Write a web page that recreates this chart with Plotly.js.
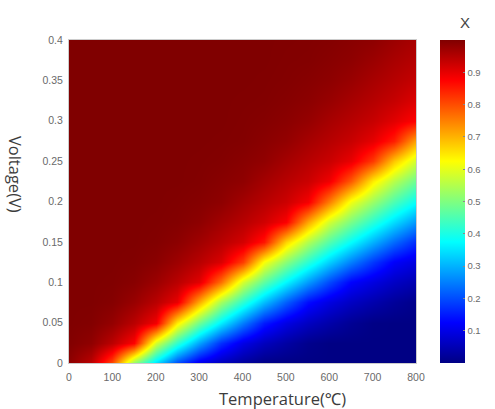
<!DOCTYPE html>
<html>
<head>
<meta charset="utf-8">
<script src="https://cdn.plot.ly/plotly-3.0.1.min.js"></script>
<style>html,body{margin:0;padding:0;background:#fff;}#chart{width:495px;height:409px;}</style>
</head>
<body>
<div id="chart"></div>
<script>
// Temperature (°C) grid and Voltage (V) grid
var temperature = [0,50,100,150,200,250,300,350,400,450,500,550,600,650,700,750,800];
var voltage = [0,0.025,0.05,0.075,0.1,0.125,0.15,0.175,0.2,0.225,0.25,0.275,0.3,0.325,0.35,0.375,0.4];

// X values, one row per voltage
var x_v000 = [0.987,0.940,0.803,0.516,0.343,0.198,0.103,0.056,0.025,0.003,0,0,0,0,0,0,0];
var x_v025 = [0.998,0.985,0.942,0.875,0.583,0.423,0.286,0.170,0.099,0.059,0.032,0.009,0,0,0,0,0];
var x_v050 = [1,0.997,0.980,0.943,0.887,0.642,0.485,0.359,0.247,0.150,0.097,0.062,0.038,0.016,0.002,0,0];
var x_v075 = [1,1,0.995,0.976,0.944,0.897,0.709,0.537,0.419,0.312,0.218,0.136,0.095,0.064,0.042,0.022,0.007];
var x_v100 = [1,1,0.999,0.992,0.973,0.944,0.904,0.765,0.582,0.468,0.369,0.277,0.197,0.125,0.094,0.066,0.045];
var x_v125 = [1,1,1,0.998,0.990,0.971,0.945,0.911,0.814,0.619,0.510,0.416,0.330,0.250,0.179,0.120,0.093];
var x_v150 = [1,1,1,1,0.997,0.988,0.969,0.945,0.917,0.854,0.667,0.548,0.457,0.376,0.299,0.229,0.166];
var x_v175 = [1,1,1,1,0.999,0.996,0.987,0.967,0.946,0.921,0.878,0.711,0.581,0.493,0.415,0.342,0.273];
var x_v200 = [1,1,1,1,1,0.998,0.994,0.986,0.966,0.946,0.925,0.884,0.752,0.610,0.525,0.449,0.380];
var x_v225 = [1,1,1,1,1,1,0.998,0.992,0.985,0.965,0.946,0.927,0.890,0.787,0.643,0.554,0.480];
var x_v250 = [1,1,1,1,1,1,0.999,0.997,0.991,0.983,0.964,0.946,0.928,0.896,0.818,0.680,0.580];
var x_v275 = [1,1,1,1,1,1,1,0.999,0.997,0.990,0.981,0.963,0.947,0.929,0.900,0.846,0.713];
var x_v300 = [1,1,1,1,1,1,1,1,0.998,0.995,0.989,0.979,0.962,0.947,0.930,0.904,0.872];
var x_v325 = [1,1,1,1,1,1,1,1,0.999,0.998,0.994,0.988,0.977,0.962,0.947,0.931,0.908];
var x_v350 = [1,1,1,1,1,1,1,1,1,0.999,0.997,0.993,0.987,0.976,0.961,0.947,0.932];
var x_v375 = [1,1,1,1,1,1,1,1,1,1,0.998,0.997,0.992,0.986,0.974,0.960,0.947];
var x_v400 = [1,1,1,1,1,1,1,1,1,1,0.999,0.998,0.996,0.991,0.986,0.973,0.960];

var xTickVals = [0,100,200,300,400,500,600,700,800];
var xTickText = ['0','100','200','300','400','500','600','700','800'];
var yTickVals = [0,0.05,0.1,0.15,0.2,0.25,0.3,0.35,0.4];
var yTickText = ['0','0.05','0.1','0.15','0.2','0.25','0.3','0.35','0.4'];
var cbTickVals = [0.1,0.2,0.3,0.4,0.5,0.6,0.7,0.8,0.9];
var cbTickText = ['0.1','0.2','0.3','0.4','0.5','0.6','0.7','0.8','0.9'];

var zMatrix = [x_v000,x_v025,x_v050,x_v075,x_v100,x_v125,x_v150,x_v175,x_v200,
               x_v225,x_v250,x_v275,x_v300,x_v325,x_v350,x_v375,x_v400];

var jet = [[0,'rgb(0,0,132)'],[0.125,'rgb(0,0,255)'],[0.375,'rgb(0,255,255)'],
           [0.625,'rgb(255,255,0)'],[0.875,'rgb(255,0,0)'],[1,'rgb(128,0,0)']];

var tickFont = {family:'Liberation Sans, Arial, sans-serif', size:10.5, color:'#6a6a6a'};
var titleFont = {family:'Open Sans, Noto Sans, sans-serif', size:16.5, color:'#3c3c3c'};

var trace = {
  type:'heatmap',
  x: temperature,
  y: voltage,
  z: zMatrix,
  zmin:0, zmax:1,
  zsmooth:'best',
  colorscale: jet,
  hoverinfo:'skip',
  colorbar:{
    x:(447-69)/354, xanchor:'left', xpad:0,
    y:0.5, yanchor:'middle', len:1, lenmode:'fraction', ypad:0,
    thickness:25, thicknessmode:'pixels',
    outlinewidth:0,
    tickmode:'array', tickvals:cbTickVals, ticktext:cbTickText,
    ticks:'inside', ticklen:2, tickcolor:'#888',
    tickfont:{family:'Liberation Sans, Arial, sans-serif', size:9.5, color:'#6a6a6a'}
  }
};

var layout = {
  width:495, height:409,
  margin:{l:69, r:72, t:40, b:46},
  paper_bgcolor:'#ffffff', plot_bgcolor:'#ffffff',
  showlegend:false,
  xaxis:{
    range:[0,800], tickmode:'array', tickvals:xTickVals, ticktext:xTickText,
    ticks:'', showgrid:false, zeroline:false,
    showline:true, linecolor:'#cccccc', linewidth:1, mirror:true,
    tickfont:tickFont, ticklabelstandoff:4
  },
  yaxis:{
    range:[0,0.4], tickmode:'array', tickvals:yTickVals, ticktext:yTickText,
    ticks:'', showgrid:false, zeroline:false,
    showline:true, linecolor:'#cccccc', linewidth:1, mirror:true,
    tickfont:tickFont, ticklabelstandoff:3
  },
  annotations:[
    {text:'Temperature(℃)', xref:'paper', yref:'paper', x:(287-69)/354, y:(363-398)/323,
     xanchor:'center', yanchor:'middle', showarrow:false, font:titleFont},
    {text:'Voltage(V)', xref:'paper', yref:'paper', x:(15-69)/354, y:(363-174)/323,
     xanchor:'center', yanchor:'middle', textangle:90, showarrow:false, font:titleFont},
    {text:'X', xref:'paper', yref:'paper', x:(473-69)/354, y:(363-22)/323,
     xanchor:'center', yanchor:'middle', showarrow:false,
     font:{family:'Liberation Sans, Arial, sans-serif', size:15, color:'#444444'}}
  ]
};

Plotly.newPlot('chart',[trace],layout,{displayModeBar:false, staticPlot:true});
</script>
</body>
</html>
